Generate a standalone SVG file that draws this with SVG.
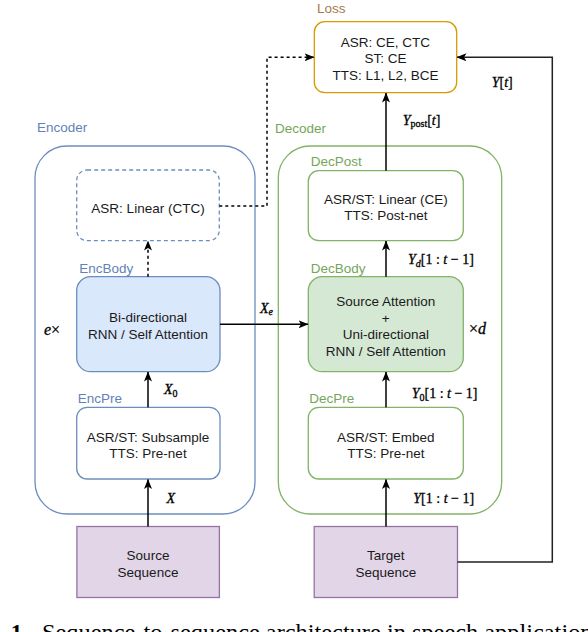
<svg xmlns="http://www.w3.org/2000/svg" width="588" height="632" viewBox="0 0 588 632">
<style>
text{font-family:"Liberation Sans",Arial,sans-serif;font-size:13.5px;fill:#1a1a1a}
.c{text-anchor:middle}
.le{fill:#5f82b8}
.ld{fill:#74a659}
.ll{fill:#a87a4c}
.m{font-family:"Liberation Serif","Times New Roman",serif;font-size:14px;fill:#000;stroke:#000;stroke-width:0.3}
.i{font-style:italic}
.big{font-size:16px}
.cap{font-family:"Liberation Serif","Times New Roman",serif;font-size:23px;fill:#000}
.enc{fill:none;stroke:#6c8ebf;stroke-width:1.3}
.encf{fill:#dae8fc;stroke:#6c8ebf;stroke-width:1.3}
.encw{fill:#fff;stroke:#6c8ebf;stroke-width:1.3}
.dec{fill:none;stroke:#82b366;stroke-width:1.3}
.decf{fill:#d5e8d4;stroke:#82b366;stroke-width:1.3}
.decw{fill:#fff;stroke:#82b366;stroke-width:1.3}
.seq{fill:#e1d5e7;stroke:#9673a6;stroke-width:1.3}
.loss{fill:#fff;stroke:#d79b00;stroke-width:1.3}
.e{fill:none;stroke:#000;stroke-width:1.5}
.dash{stroke-dasharray:3 3}
</style>
<defs>
<marker id="a" markerUnits="userSpaceOnUse" markerWidth="10" markerHeight="8" refX="9.5" refY="4" orient="auto">
<path d="M0,0 L10,4 L0,8 L2.5,4 Z" fill="#000"/>
</marker>
</defs>

<g id="encoder">
<text class="le" x="37" y="132">Encoder</text>
<rect class="enc" x="35" y="146" width="220" height="368" rx="32" ry="32"/>
<text class="m i big" x="44" y="335">e<tspan font-style="normal">×</tspan></text>
</g>
<g id="decoder">
<text class="ld" x="275" y="132.5">Decoder</text>
<rect class="dec" x="278.3" y="146" width="223.4" height="368" rx="32" ry="32"/>
<text class="m big" x="469" y="334.3">×<tspan class="i">d</tspan></text>
</g>

<g id="loss">
<text class="ll" x="317" y="12.7">Loss</text>
<rect class="loss" x="314.3" y="21.7" width="142.4" height="71" rx="10.5" ry="10.5"/>
<text class="c" x="385.5" y="46.7">ASR: CE, CTC</text>
<text class="c" x="385.5" y="63.3">ST: CE</text>
<text class="c" x="385.5" y="80">TTS: L1, L2, BCE</text>
</g>

<g id="asr-linear">
<rect class="encw" x="76.7" y="170" width="142.6" height="70.7" rx="10.5" ry="10.5" style="stroke-dasharray:4 3"/>
<text class="c" x="148" y="212.5">ASR: Linear (CTC)</text>
</g>

<g id="encbody">
<text class="le" x="79.3" y="272.5">EncBody</text>
<rect class="encf" x="76.7" y="276.7" width="143.3" height="95" rx="14" ry="14"/>
<text class="c" x="148" y="322">Bi-directional</text>
<text class="c" x="148" y="339">RNN / Self Attention</text>
</g>

<g id="encpre">
<text class="le" x="77.7" y="403">EncPre</text>
<rect class="encw" x="76.7" y="407.3" width="143.3" height="71.7" rx="10.5" ry="10.5"/>
<text class="c" x="148" y="441.5">ASR/ST: Subsample</text>
<text class="c" x="148" y="458">TTS: Pre-net</text>
</g>

<g id="decpost">
<text class="ld" x="310.7" y="165.5">DecPost</text>
<rect class="decw" x="308.3" y="170.7" width="155" height="70" rx="10.5" ry="10.5"/>
<text class="c" x="385.8" y="203.5">ASR/ST: Linear (CE)</text>
<text class="c" x="385.8" y="219.8">TTS: Post-net</text>
</g>

<g id="decbody">
<text class="ld" x="310.7" y="272.5">DecBody</text>
<rect class="decf" x="308.3" y="276.7" width="155" height="95" rx="14" ry="14"/>
<text class="c" x="385.8" y="306">Source Attention</text>
<text class="c" x="385.8" y="322.5">+</text>
<text class="c" x="385.8" y="339.3">Uni-directional</text>
<text class="c" x="385.8" y="355.7">RNN / Self Attention</text>
</g>

<g id="decpre">
<text class="ld" x="309.3" y="403">DecPre</text>
<rect class="decw" x="308.3" y="407.3" width="155" height="71.7" rx="10.5" ry="10.5"/>
<text class="c" x="385.8" y="441.5">ASR/ST: Embed</text>
<text class="c" x="385.8" y="458">TTS: Pre-net</text>
</g>

<g id="source">
<rect class="seq" x="76.9" y="526.5" width="142.5" height="71"/>
<text class="c" x="148" y="560">Source</text>
<text class="c" x="148" y="576.5">Sequence</text>
</g>

<g id="target">
<rect class="seq" x="314.2" y="526.5" width="143.3" height="71"/>
<text class="c" x="385.8" y="560">Target</text>
<text class="c" x="385.8" y="576.5">Sequence</text>
</g>

<g id="connectors">
<line class="e" x1="148" y1="526.5" x2="148" y2="479.5" marker-end="url(#a)"/>
<line class="e" x1="148" y1="407.3" x2="148" y2="372" marker-end="url(#a)"/>
<line class="e dash" x1="148" y1="276.7" x2="148" y2="241" marker-end="url(#a)"/>
<polyline class="e dash" points="219.3,206 267,206 267,57.3 314,57.3" marker-end="url(#a)"/>
<line class="e" x1="220" y1="324.3" x2="308" y2="324.3" marker-end="url(#a)"/>
<line class="e" x1="386" y1="526.5" x2="386" y2="479.5" marker-end="url(#a)"/>
<line class="e" x1="386" y1="407.3" x2="386" y2="372" marker-end="url(#a)"/>
<line class="e" x1="386" y1="276.7" x2="386" y2="241" marker-end="url(#a)"/>
<line class="e" x1="386" y1="170.7" x2="386" y2="93" marker-end="url(#a)"/>
<polyline class="e" style="stroke:#222" points="457.5,562 552.3,562 552.3,57.3 457,57.3" marker-end="url(#a)"/>
</g>

<g id="labels">
<text class="m" x="166.5" y="503"><tspan class="i">X</tspan></text>
<text class="m" x="164" y="394"><tspan class="i">X</tspan><tspan font-size="10" dy="3">0</tspan></text>
<text class="m" x="260" y="312.7"><tspan class="i">X</tspan><tspan class="i" font-size="10" dy="2.5">e</tspan></text>
<text class="m" x="413.3" y="503"><tspan class="i">Y</tspan>[1 : <tspan class="i">t</tspan> − 1]</text>
<text class="m" x="411.7" y="398"><tspan class="i">Y</tspan><tspan font-size="10" dy="2.5">0</tspan><tspan dy="-2.5">[1 : </tspan><tspan class="i">t</tspan> − 1]</text>
<text class="m" x="408" y="264"><tspan class="i">Y</tspan><tspan class="i" font-size="10" dy="2.5">d</tspan><tspan dy="-2.5">[1 : </tspan><tspan class="i">t</tspan> − 1]</text>
<text class="m" x="402.7" y="124.5"><tspan class="i">Y</tspan><tspan font-size="10" dy="2.5">post</tspan><tspan dy="-2.5">[</tspan><tspan class="i">t</tspan>]</text>
<text class="m" x="491.7" y="87.3"><tspan class="i">Y</tspan>[<tspan class="i">t</tspan>]</text>
</g>

<g id="caption">
<text class="cap" x="28" y="640" text-anchor="end" font-weight="bold">Fig. 1.</text>
<text class="cap" x="42" y="640" textLength="560" lengthAdjust="spacingAndGlyphs">Sequence-to-sequence architecture in speech applications</text>
</g>
</svg>
